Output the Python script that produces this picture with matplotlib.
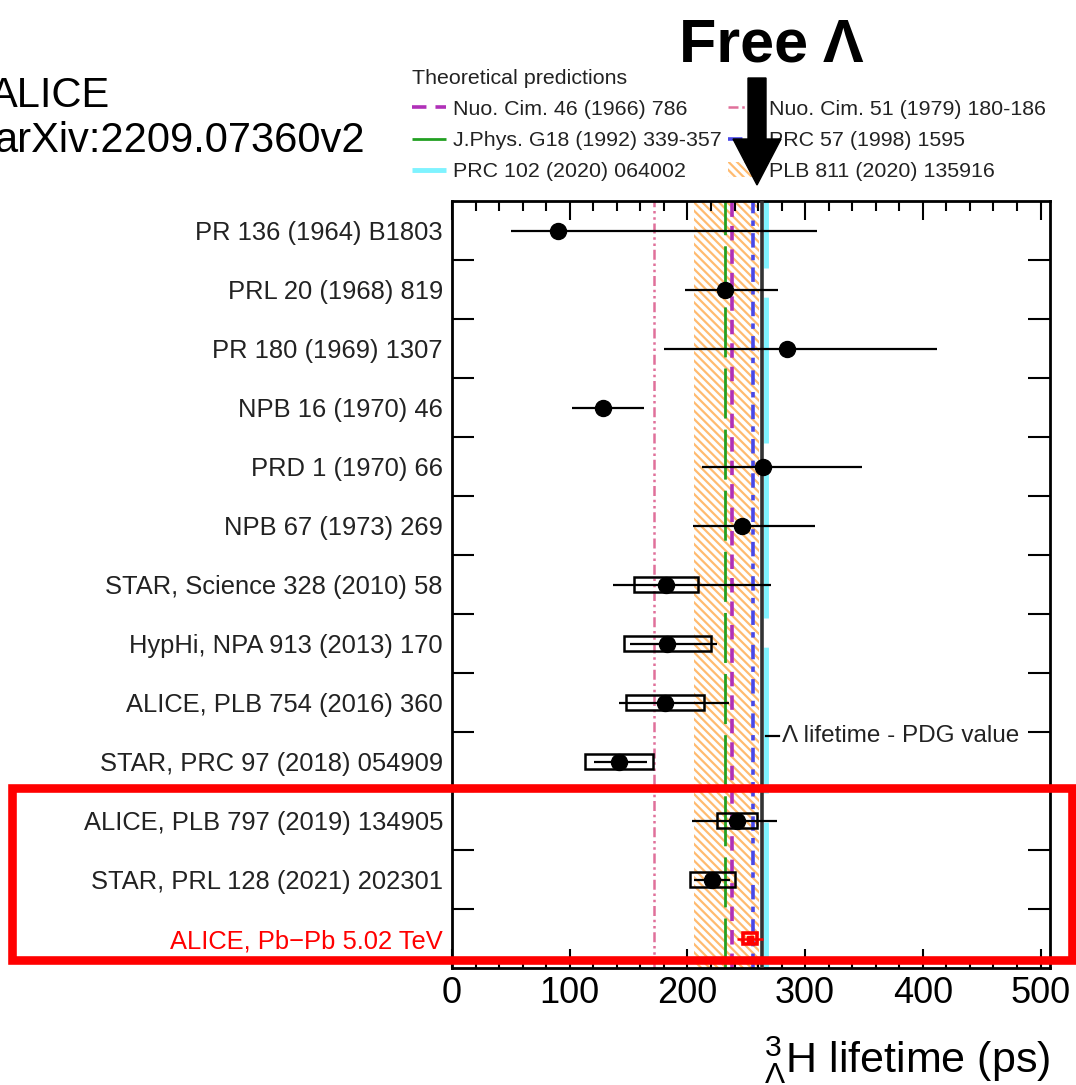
import matplotlib
matplotlib.use('Agg')
import matplotlib.pyplot as plt
from matplotlib.patches import Rectangle, FancyArrow, Patch
from matplotlib.lines import Line2D
import numpy as np

# ---------------- data ----------------
labels = ['PR 136 (1964) B1803', 'PRL 20 (1968) 819', 'PR 180 (1969) 1307',
          'NPB 16 (1970) 46', 'PRD 1 (1970) 66', 'NPB 67 (1973) 269',
          'STAR, Science 328 (2010) 58', 'HypHi, NPA 913 (2013) 170',
          'ALICE, PLB 754 (2016) 360', 'STAR, PRC 97 (2018) 054909',
          'ALICE, PLB 797 (2019) 134905', 'STAR, PRL 128 (2021) 202301',
          'ALICE, Pb\u2212Pb 5.02 TeV']
tau = [90, 232, 285, 128, 264, 246, 182, 183, 181, 142, 242, 221, 253]
stat_lo = [40, 34, 105, 26, 52, 41, 45, 32, 39, 21, 38, 15, 11]
stat_hi = [220, 45, 127, 35, 84, 62, 89, 42, 54, 24, 34, 15, 11]
syst = [np.nan] * 6 + [27, 37, 33, 29, 17, 19, 6]

theory_names = ['Nuo. Cim. 46 (1966) 786', 'Nuo. Cim. 51 (1979) 180-186',
                'J.Phys. G18 (1992) 339-357', 'PRC 57 (1998) 1595',
                'PRC 102 (2020) 064002']
theory_tau = [238, 172, 232, 256, 267]
band_name = 'PLB 811 (2020) 135916'
band_range = [206, 261]
pdg_tau = 263.2

xticks = [0, 100, 200, 300, 400, 500]

TICK_FS = 26
LEG_FS = 15.4

plt.rcParams['font.family'] = ['Liberation Sans', 'DejaVu Sans']
plt.rcParams['mathtext.fontset'] = 'custom'
plt.rcParams['mathtext.rm'] = 'Liberation Sans'
plt.rcParams['mathtext.it'] = 'Liberation Sans:italic'
plt.rcParams['mathtext.bf'] = 'Liberation Sans:bold'
plt.rcParams['hatch.linewidth'] = 1.6

W, H = 1076, 1085
fig = plt.figure(figsize=(W / 100, H / 100), dpi=100)
ax = fig.add_axes([452 / W, (H - 968) / H, (1050 - 452) / W, (968 - 201) / H])

n = len(labels)
ypos = np.array([n - 0.5 - i for i in range(n)])

BAND_C = '#ffbb70'
HATCH = '\\\\\\\\'
# theory band
ax.axvspan(band_range[0], band_range[1], facecolor='none', edgecolor=BAND_C,
           hatch=HATCH, lw=0, zorder=1)

styles = [
    dict(color='#b030b8', lw=2.6, dashes=(4, 2.5)),
    dict(color='#e0709a', lw=1.8, dashes=(4, 1.5, 1, 1.5, 1, 1.5)),
    dict(color='#22a022', lw=2.0, dashes=(18, 4)),
    dict(color='#4848e8', lw=2.6, dashes=(4, 2, 1.5, 2)),
    dict(color='#7ff3ff', lw=3.5, dashes=(30, 6)),
]
handles = []
for name, t, st in zip(theory_names, theory_tau, styles):
    ax.axvline(t, zorder=2, **st)
    handles.append(Line2D([], [], label=name, **st))
band_handle = Patch(facecolor='none', edgecolor=BAND_C, hatch=HATCH, lw=0,
                    label=band_name)

ax.axvline(pdg_tau, color='#333333', lw=2.6, zorder=3)
ax.plot([266.5, 278], [3.93, 3.93], color='black', lw=1.6, zorder=3)
ax.text(280, 3.93, '\u039b lifetime - PDG value', fontsize=17.5,
        va='center', ha='left', color='#222222')

# measurements
tau_a = np.array(tau, float)
lo = np.array(stat_lo, float)
hi = np.array(stat_hi, float)
sy = np.array(syst, float)
black = slice(0, n - 1)
ax.errorbar(tau_a[black], ypos[black], xerr=[lo[black], hi[black]], fmt='o',
            color='black', ms=11.5, elinewidth=1.6, capsize=0, zorder=6)
for t, y, s in zip(tau_a[:-1], ypos[:-1], sy[:-1]):
    if not np.isnan(s):
        ax.add_patch(Rectangle((t - s, y - 0.12), 2 * s, 0.24, fill=False,
                               edgecolor='black', lw=1.8, zorder=5))
# ALICE Pb-Pb (red)
ax.errorbar(tau_a[-1:], ypos[-1:], xerr=[lo[-1:], hi[-1:]], fmt='s',
            color='red', ms=4, elinewidth=1.8, capsize=0, zorder=6)
ax.add_patch(Rectangle((tau_a[-1] - sy[-1], ypos[-1] - 0.1), 2 * sy[-1], 0.2,
                       fill=False, edgecolor='red', lw=2.6, zorder=6))

ax.set_xlim(0, 508)
ax.set_ylim(0, n)
ax.set_xticks(xticks)
ax.set_xticklabels([str(v) for v in xticks], fontsize=TICK_FS)
ax.set_xticks(np.arange(0, 509, 20), minor=True)
ax.tick_params(axis='x', which='major', direction='in', length=14, width=1.5,
               top=True, bottom=True, pad=6)
ax.tick_params(axis='x', which='minor', direction='in', length=7, width=1.5,
               top=True, bottom=True)
ax.set_yticks(ypos)
ax.set_yticklabels(labels, fontsize=18.4, color='#222222')
ax.get_yticklabels()[-1].set_color('red')
ax.set_yticks(np.arange(1, n), minor=True)
ax.tick_params(axis='y', which='major', length=0, pad=6.5)
ax.tick_params(axis='y', which='minor', direction='in', length=16, width=1.5,
               left=True, right=True)
for sp in ax.spines.values():
    sp.set_linewidth(2)

# x label
fig.text(1050 / W, 1 - 1072 / H, r'${}^{3}_{\Lambda}$H lifetime (ps)',
         fontsize=31, ha='right', va='baseline')

# legend
leg = fig.legend(handles=[handles[0], handles[2], handles[4],
                          handles[1], handles[3], band_handle],
                 ncol=2, loc='upper left', bbox_to_anchor=(401 / W, 1 - 58 / H),
                 frameon=False, fontsize=LEG_FS, title='Theoretical predictions',
                 title_fontsize=LEG_FS, alignment='left', borderpad=0,
                 handlelength=1.6, handletextpad=0.35, columnspacing=0.25,
                 labelspacing=0.57)
for t in leg.get_texts():
    t.set_color('#222222')
leg.get_title().set_color('#222222')

# annotations
fig.text(-10 / W, 1 - 107 / H, 'ALICE', fontsize=30, ha='left', va='baseline')
fig.text(-6 / W, 1 - 152 / H, 'arXiv:2209.07360v2', fontsize=30, ha='left',
         va='baseline')
fig.text(771 / W, 1 - 61 / H, 'Free \u039b', fontsize=44, fontweight='bold',
         ha='center', va='baseline')
fig.add_artist(FancyArrow(7.57, (H - 78) / 100, 0, -(185 - 78) / 100, width=0.18,
                          head_width=0.48, head_length=0.46,
                          length_includes_head=True, color='black',
                          transform=fig.dpi_scale_trans, zorder=10))
fig.add_artist(Rectangle((0.12, (H - 959.5) / 100), 10.60, 1.72, fill=False,
                         edgecolor='red', lw=6.2, transform=fig.dpi_scale_trans,
                         zorder=10))

fig.savefig('out.png', dpi=100)
